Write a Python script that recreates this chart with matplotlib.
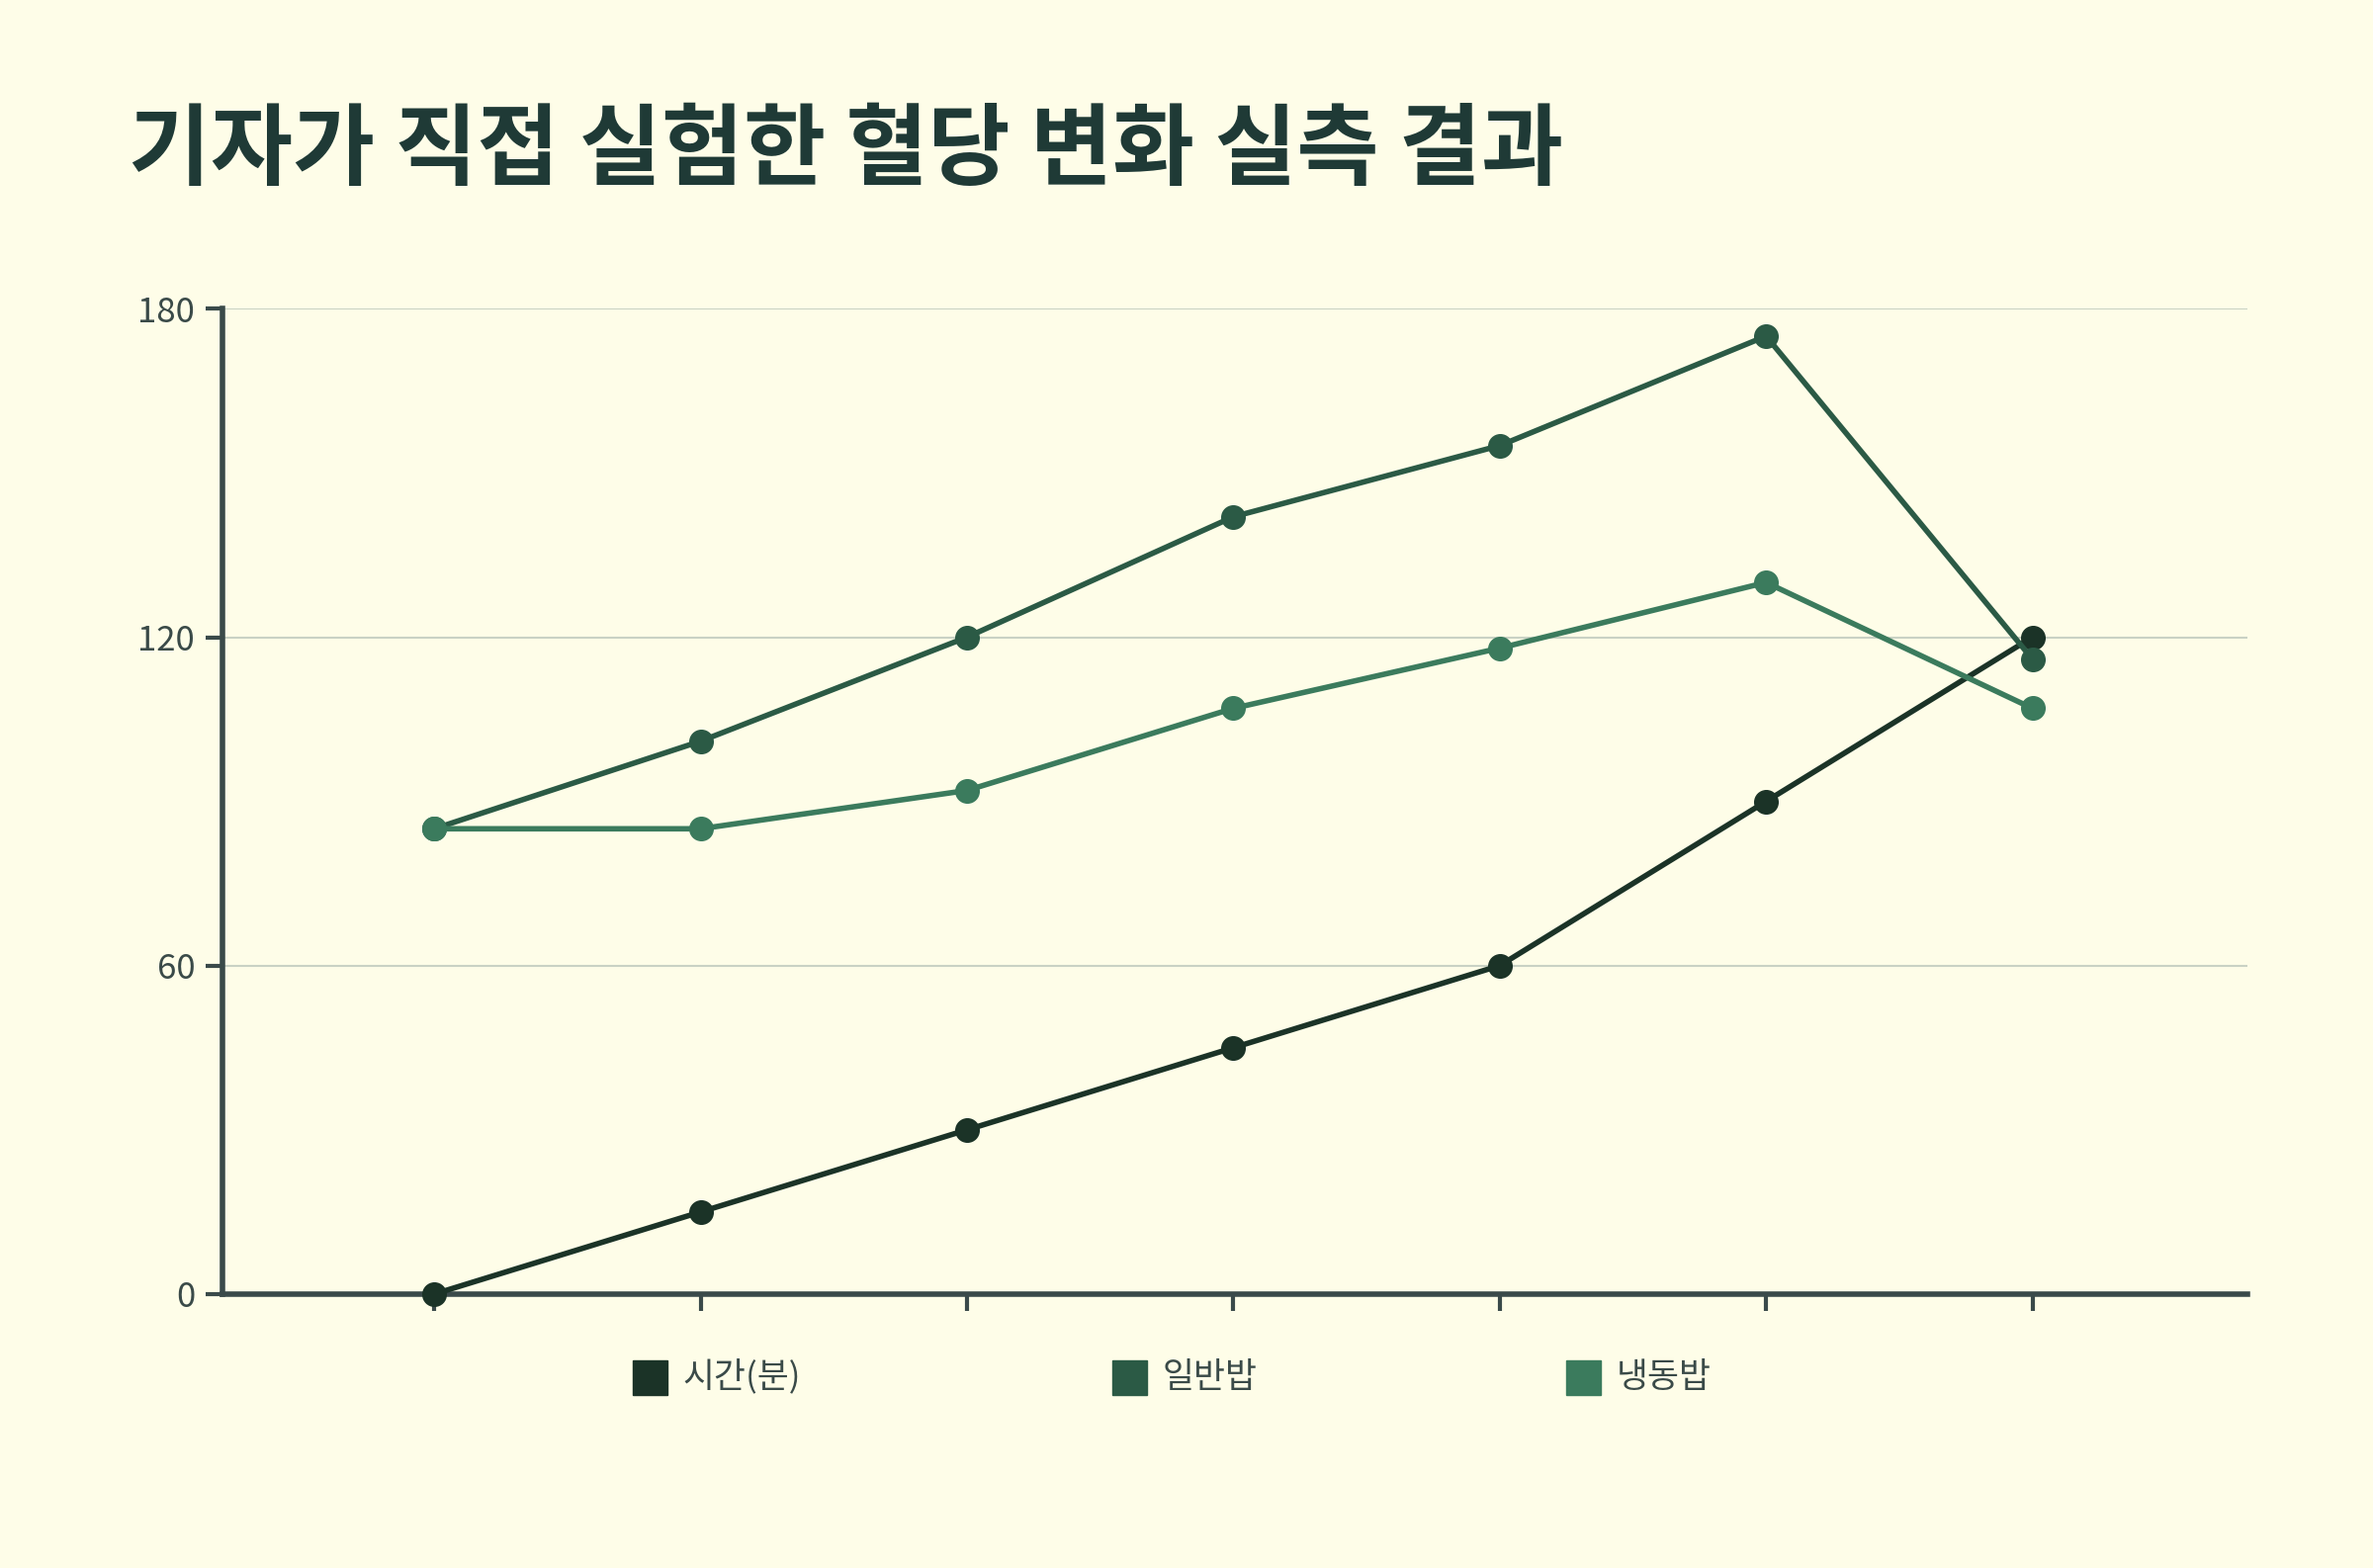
import matplotlib
matplotlib.use("Agg")
import matplotlib.pyplot as plt

plt.rcParams['font.family'] = ['Noto Sans CJK KR', 'DejaVu Sans']

x_idx = [0, 1, 2, 3, 4, 5, 6]
series_names = ["시간(분)", "일반밥", "냉동밥"]
time_min = [0, 15, 30, 45, 60, 90, 120]
normal_rice = [85, 101, 120, 142, 155, 175, 116]
frozen_rice = [85, 85, 92, 107, 118, 130, 107]
colors = ["#1b3327", "#2b5a45", "#3b7b5d"]
yticks = [0, 60, 120, 180]

bg = "#fefde8"
W, H = 1568, 1036
fig = plt.figure(figsize=(24, 15.86), dpi=100, facecolor=bg)
ax = fig.add_axes([147/W, 1-855/H, (1485-147)/W, (855-204)/H], facecolor=bg)

for vals, c in zip([time_min, normal_rice, frozen_rice], colors):
    ax.plot(x_idx, vals, color=c, lw=4, marker='o', ms=17, zorder=3, clip_on=False)

ax.set_xlim(-0.795, 6.807)
ax.set_ylim(0, 180)
ax.set_yticks(yticks)
ax.set_yticklabels([str(v) for v in yticks], fontsize=25, color="#3a4a48")
ax.set_xticks(x_idx)
ax.set_xticklabels([])
ax.grid(axis='y', color="#c9d2c4", lw=1.5)
ax.set_axisbelow(True)
for s in ['top', 'right']:
    ax.spines[s].set_visible(False)
for s in ['left', 'bottom']:
    ax.spines[s].set_color("#3a4a4a")
    ax.spines[s].set_linewidth(4)
ax.tick_params(axis='both', colors="#3a4a4a", width=3, length=12, pad=8)
ax.tick_params(axis='y', labelcolor="#3a4a48")

fig.text(85/W, 1-100/H, "기자가 직접 실험한 혈당 변화 실측 결과", fontsize=65,
         fontweight='bold', color="#1f3a36", va='center', ha='left')

legend_x = [418, 735, 1035]
for lx, name, c in zip(legend_x, series_names, colors):
    fig.patches.append(plt.Rectangle((lx/W, 1-922/H), 23/W, 23/H,
                                     transform=fig.transFigure, color=c))
    fig.text((lx+33)/W, 1-910/H, name, fontsize=25, color="#3a4a48", va='center')

fig.savefig("out.png", dpi=100, facecolor=bg)
